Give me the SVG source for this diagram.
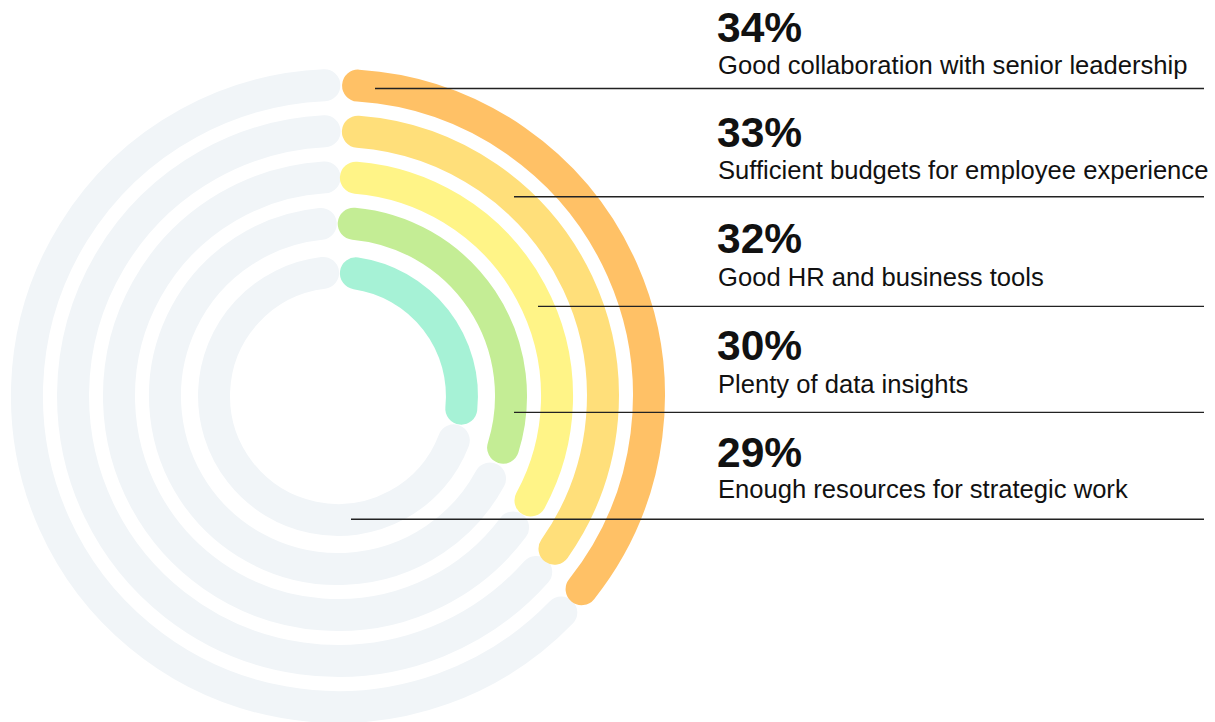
<svg xmlns="http://www.w3.org/2000/svg" width="1215" height="722" viewBox="0 0 1215 722">
<style>
.arc{fill:none;stroke-width:32;stroke-linecap:round}
.track{stroke:#F1F5F8}
.pct{font-family:"Liberation Sans",Arial,sans-serif;font-weight:bold;font-size:42.5px;fill:#111}
.lbl{font-family:"Liberation Sans",Arial,sans-serif;font-size:25.6px;fill:#111}
.lead{stroke:#222;stroke-width:1.4;fill:none}
</style>
<rect width="1215" height="722" fill="#fff"/>
<g id="ring-34">
<path class="arc track" d="M561.3,612.4 A311,311 0 1 1 324.4,85.3"/>
<path class="arc" stroke="#FFC166" d="M358.1,85.6 A311,311 0 0 1 581.6,589.2"/>
</g>
<g id="ring-33">
<path class="arc track" d="M536.2,571.9 A265,265 0 1 1 324.6,131.3"/>
<path class="arc" stroke="#FFDF7A" d="M357.9,131.7 A265,265 0 0 1 554.5,548.7"/>
</g>
<g id="ring-32">
<path class="arc track" d="M513.1,527.5 A219,219 0 1 1 324.6,177.4"/>
<path class="arc" stroke="#FFF487" d="M355.9,177.7 A219,219 0 0 1 530.5,500.5"/>
</g>
<g id="ring-30">
<path class="arc track" d="M490.0,478.6 A173,173 0 1 1 320.8,223.9"/>
<path class="arc" stroke="#C4ED95" d="M353.7,223.7 A173,173 0 0 1 503.1,447.7"/>
</g>
<g id="ring-29">
<path class="arc track" d="M453.8,440.4 A124,124 0 1 1 323.1,272.9"/>
<path class="arc" stroke="#A6F2D6" d="M355.9,273.3 A124,124 0 0 1 461.3,408.7"/>
</g>
<g id="connectors">
<line class="lead" x1="375" y1="88.5" x2="1204" y2="88.5"/>
<line class="lead" x1="514" y1="196.7" x2="1204" y2="196.7"/>
<line class="lead" x1="538" y1="306.4" x2="1204" y2="306.4"/>
<line class="lead" x1="514" y1="412.4" x2="1204" y2="412.4"/>
<line class="lead" x1="351" y1="519.3" x2="1204" y2="519.3"/>
</g>
<g id="label-34">
<text class="pct" x="717" y="41.7">34%</text>
<text class="lbl" x="718" y="73.5">Good collaboration with senior leadership</text>
</g>
<g id="label-33">
<text class="pct" x="717" y="147">33%</text>
<text class="lbl" x="718" y="179">Sufficient budgets for employee experience</text>
</g>
<g id="label-32">
<text class="pct" x="717" y="253.3">32%</text>
<text class="lbl" x="718" y="286">Good HR and business tools</text>
</g>
<g id="label-30">
<text class="pct" x="717" y="359.5">30%</text>
<text class="lbl" x="718" y="392.7">Plenty of data insights</text>
</g>
<g id="label-29">
<text class="pct" x="717" y="466.7">29%</text>
<text class="lbl" x="718" y="498.3">Enough resources for strategic work</text>
</g>
</svg>
